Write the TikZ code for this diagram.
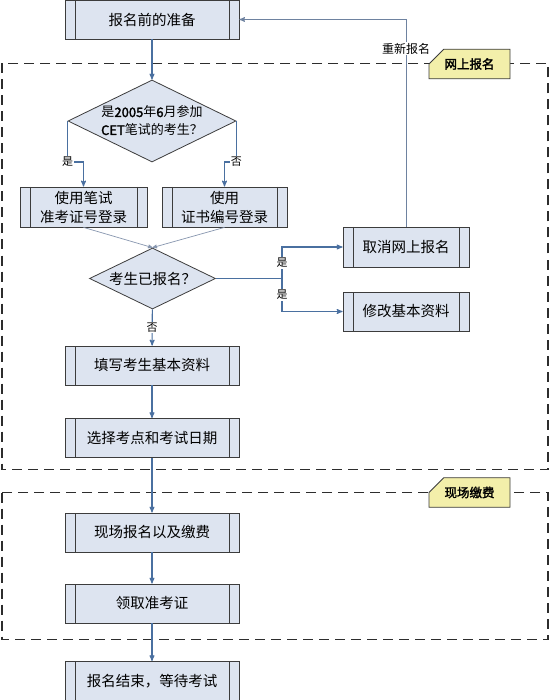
\documentclass[tikz,border=0pt]{standalone}
\usepackage{fontspec}
\setmainfont{Noto Sans CJK SC}[AutoFakeBold=2]
\usepackage{tikz}
\usetikzlibrary{arrows,shapes.geometric,shapes.misc,positioning}

\definecolor{boxfill}{RGB}{221,228,240}
\definecolor{boxline}{RGB}{60,60,60}
\definecolor{flow}{RGB}{74,112,160}
\definecolor{backflow}{RGB}{110,130,160}
\definecolor{thinflow}{RGB}{135,150,175}
\definecolor{tagfill}{RGB}{243,239,170}
\definecolor{zoneline}{RGB}{45,45,45}

\begin{document}
\begin{tikzpicture}[x=1pt, y=-1pt, >=stealth',
    proc/.style={draw=boxline, fill=boxfill, line width=0.8pt, inner sep=0pt,
        minimum width=174pt, minimum height=39pt, align=center,
        font=\fontsize{14.5}{19}\selectfont,
        path picture={
            \draw[boxline, line width=0.8pt]
                ([xshift=10pt]path picture bounding box.north west) -- ([xshift=10pt]path picture bounding box.south west)
                ([xshift=-10pt]path picture bounding box.north east) -- ([xshift=-10pt]path picture bounding box.south east);}},
    decision/.style={diamond, draw=boxline, fill=boxfill, line width=0.8pt,
        inner sep=0pt, aspect=2, align=center},
    flowline/.style={->, draw=flow, line width=1.1pt},
    thinline/.style={->, draw=thinflow, line width=0.7pt},
    backline/.style={->, draw=backflow, line width=1pt},
    lbl/.style={fill=white, inner sep=1pt, text=black, font=\fontsize{11}{11}\selectfont},
    zone/.style={draw=zoneline, line width=1.8pt, dash pattern=on 10pt off 6pt},
    tag/.style={chamfered rectangle, chamfered rectangle corners=north west,
        chamfered rectangle sep=9pt, draw=boxline, fill=tagfill, line width=0.8pt,
        minimum width=81pt, minimum height=26pt, inner sep=0pt,
        font=\fontsize{12.5}{13}\selectfont\bfseries}]

    \fill[white] (0,0) rectangle (550,700);
    \useasboundingbox (0,0) rectangle (550,700);

    % Zones
    \draw[zone] (2,63.5) rectangle (548,469.5);
    \draw[zone] (2,492.5) rectangle (548,639.5);

    % Nodes
    \node [proc]     (prep)      at (152,19.5)  {报名前的准备};
    \node [decision, minimum width=168pt, minimum height=82pt,
           font=\fontsize{13}{18}\selectfont]
                     (q1)        at (152,121)   {是\textbf{2005}年\textbf{6}月参加\\\textbf{CET}笔试的考生？};
    \node [proc, minimum width=127pt, minimum height=40pt]
                     (bishi)     at (83.5,207)  {使用笔试\\准考证号登录};
    \node [proc, minimum width=125pt, minimum height=40pt]
                     (zhengshu)  at (224.5,207) {使用\\证书编号登录};
    \node [decision, minimum width=126pt, minimum height=61pt,
           font=\fontsize{14.5}{17}\selectfont]
                     (q2)        at (152.5,278.5) {考生已报名？};
    \node [proc, minimum width=126pt, minimum height=40pt]
                     (cancel)    at (406,247)   {取消网上报名};
    \node [proc, minimum width=126pt, minimum height=39pt]
                     (modify)    at (406,311.5) {修改基本资料};
    \node [proc]     (tianxie)   at (152,365.5) {填写考生基本资料};
    \node [proc]     (xuanze)    at (152,438)   {选择考点和考试日期};
    \node [proc]     (xianchang) at (152,532.5) {现场报名以及缴费};
    \node [proc]     (lingqu)    at (152,603.5) {领取准考证};
    \node [proc]     (jieshu)    at (152,681)   {报名结束，等待考试};

    \node [tag]      (netreg)    at (469.5,64)    {网上报名};
    \node [tag]      (onsite)    at (469.5,492.5) {现场缴费};

    \coordinate (fork) at (282,278.5);

    % Paths
    \draw [flowline] (prep) -- (q1);
    \draw [flowline] (q1.west) -- ++(0,41) node [lbl] {是} -| (bishi);
    \draw [flowline] (q1.east) -- ++(0,41) node [lbl] {否} -| (zhengshu);
    \draw [thinline] (bishi.south) -- (q2.north);
    \draw [thinline] (zhengshu.south) -- (q2.north);
    \draw [flowline, -] (q2.east) -- (fork);
    \draw [flowline] (fork) |- node [lbl, pos=0.25] {是} (cancel);
    \draw [flowline] (fork) |- node [lbl, pos=0.25] {是} (modify);
    \draw [flowline] (q2) -- node [lbl] {否} (tianxie);
    \draw [flowline] (tianxie) -- (xuanze);
    \draw [flowline] (xuanze) -- (xianchang);
    \draw [flowline] (xianchang) -- (lingqu);
    \draw [flowline] (lingqu) -- (jieshu);
    \draw [backline] (cancel) |- node [lbl, pos=0.43, font=\fontsize{12}{12}\selectfont] {重新报名} (prep);

\end{tikzpicture}
\end{document}
